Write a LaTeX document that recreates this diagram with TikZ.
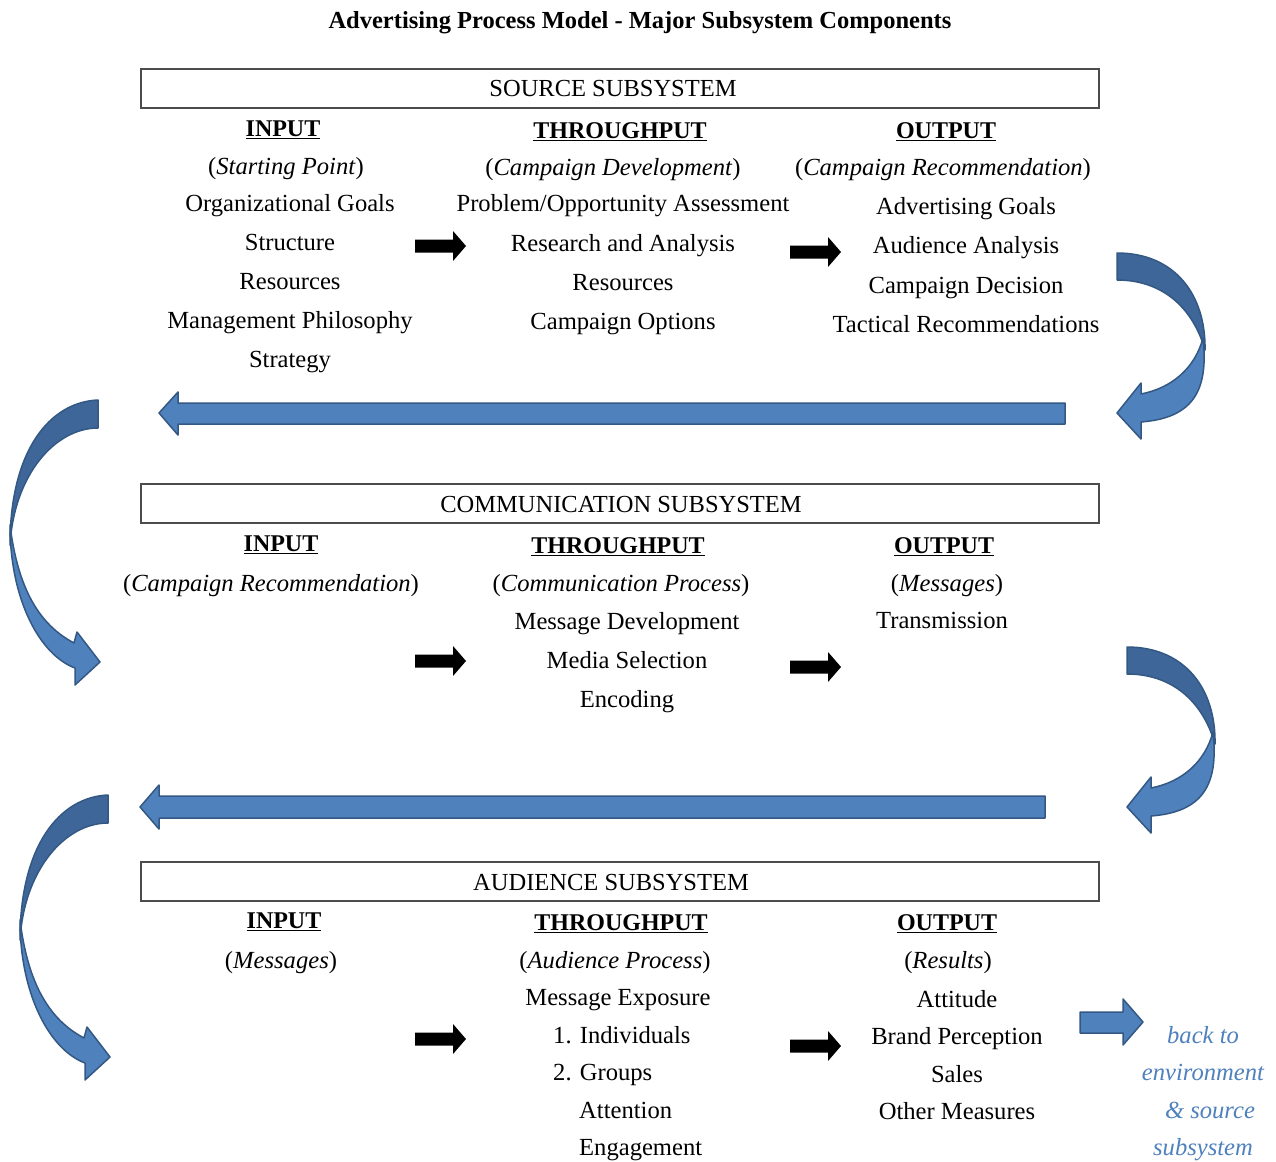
\documentclass[tikz,border=0pt]{standalone}
\usepackage{fontspec}
\setmainfont{Liberation Serif}
\definecolor{abl}{RGB}{79,129,189}
\definecolor{abd}{RGB}{62,102,152}
\definecolor{abo}{RGB}{52,88,132}
\definecolor{btxt}{RGB}{79,129,189}
\begin{document}
\begin{tikzpicture}[x=1pt,y=-1pt,
 t/.style={font=\fontsize{24.6}{29}\selectfont, inner sep=0pt, text height=17pt, text depth=5.5pt},
 hd/.style={font=\fontsize{24}{29}\selectfont\bfseries, inner sep=0pt, text height=17pt, text depth=5.5pt},
 subbox/.style={draw=black!70, line width=1.5pt, minimum width=958pt, minimum height=39pt, inner sep=0pt},
 sublbl/.style={font=\fontsize{24.5}{29}\selectfont, inner sep=0pt, text height=16pt, text depth=4pt},
 blk/.style={fill=black},
 bluear/.style={fill=abl, draw=abo, line width=1.5pt, line join=round},
 bluedark/.style={fill=abd, draw=abo, line width=1.5pt, line join=round},
 btx/.style={font=\fontsize{24.6}{29}\selectfont\itshape, text=btxt, inner sep=0pt, text height=17pt, text depth=5.5pt}
]
\useasboundingbox[fill=white] (0,0) rectangle (1276,1161);

% title
\node[font=\fontsize{24.5}{29}\selectfont\bfseries, inner sep=0pt] (title) at (640,23) {Advertising Process Model - Major Subsystem Components};

% ---------- SOURCE ----------
\node[subbox] (srcbox) at (620,88.5) {};
\node[sublbl] (srclbl) at (613,91) {SOURCE SUBSYSTEM};

\node[hd] (sin) at (283,131) {\underline{INPUT}};
\node[t] (sin1) at (286,169) {(\textit{Starting Point})};
\node[t] (sin2) at (290,206) {Organizational Goals};
\node[t] (sin3) at (290,245) {Structure};
\node[t] (sin4) at (290,284) {Resources};
\node[t] (sin5) at (290,323) {Management Philosophy};
\node[t] (sin6) at (290,362) {Strategy};

\node[hd] (sth) at (620,133) {\underline{THROUGHPUT}};
\node[t] (sth1) at (613,170) {(\textit{Campaign Development})};
\node[t] (sth2) at (623,206) {Problem/Opportunity Assessment};
\node[t] (sth3) at (623,246) {Research and Analysis};
\node[t] (sth4) at (623,285) {Resources};
\node[t] (sth5) at (623,324) {Campaign Options};

\node[hd] (sou) at (946,133) {\underline{OUTPUT}};
\node[t] (sou1) at (943,170) {(\textit{Campaign Recommendation})};
\node[t] (sou2) at (966,209) {Advertising Goals};
\node[t] (sou3) at (966,248) {Audience Analysis};
\node[t] (sou4) at (966,288) {Campaign Decision};
\node[t] (sou5) at (966,327) {Tactical Recommendations};

\fill[blk,shift={(415,246)}] (0,-6.5) -- (38,-6.5) -- (38,-15) -- (51,0) -- (38,15) -- (38,6.5) -- (0,6.5) -- cycle;
\fill[blk,shift={(790,252)}] (0,-6.5) -- (38,-6.5) -- (38,-15) -- (51,0) -- (38,15) -- (38,6.5) -- (0,6.5) -- cycle;

% ---------- COMMUNICATION ----------
\node[subbox] (combox) at (620,503.5) {};
\node[sublbl] (comlbl) at (621,506) {COMMUNICATION SUBSYSTEM};

\node[hd] (cin) at (281,546) {\underline{INPUT}};
\node[t] (cin1) at (271,586) {(\textit{Campaign Recommendation})};

\node[hd] (cth) at (618,548) {\underline{THROUGHPUT}};
\node[t] (cth1) at (621,586) {(\textit{Communication Process})};
\node[t] (cth2) at (627,624) {Message Development};
\node[t] (cth3) at (627,663) {Media Selection};
\node[t] (cth4) at (627,702) {Encoding};

\node[hd] (cou) at (944,548) {\underline{OUTPUT}};
\node[t] (cou1) at (947,586) {(\textit{Messages})};
\node[t] (cou2) at (942,623) {Transmission};

\fill[blk,shift={(415,661)}] (0,-6.5) -- (38,-6.5) -- (38,-15) -- (51,0) -- (38,15) -- (38,6.5) -- (0,6.5) -- cycle;
\fill[blk,shift={(790,667)}] (0,-6.5) -- (38,-6.5) -- (38,-15) -- (51,0) -- (38,15) -- (38,6.5) -- (0,6.5) -- cycle;

% ---------- AUDIENCE ----------
\node[subbox] (audbox) at (620,881.5) {};
\node[sublbl] (audlbl) at (611,884) {AUDIENCE SUBSYSTEM};

\node[hd] (ain) at (284,923) {\underline{INPUT}};
\node[t] (ain1) at (281,963) {(\textit{Messages})};

\node[hd] (ath) at (621,925) {\underline{THROUGHPUT}};
\node[t] (ath1) at (615,963) {(\textit{Audience Process})};
\node[t] (ath2) at (618,1000) {Message Exposure};
\node[t,anchor=west] (ath3) at (553,1038) {1. Individuals};
\node[t,anchor=west] (ath4) at (553,1075) {2. Groups};
\node[t,anchor=west] (ath5) at (579,1113) {Attention};
\node[t,anchor=west] (ath6) at (579,1150) {Engagement};

\node[hd] (aou) at (947,925) {\underline{OUTPUT}};
\node[t] (aou1) at (948,963) {(\textit{Results})};
\node[t] (aou2) at (957,1002) {Attitude};
\node[t] (aou3) at (957,1039) {Brand Perception};
\node[t] (aou4) at (957,1077) {Sales};
\node[t] (aou5) at (957,1114) {Other Measures};

\fill[blk,shift={(415,1039)}] (0,-6.5) -- (38,-6.5) -- (38,-15) -- (51,0) -- (38,15) -- (38,6.5) -- (0,6.5) -- cycle;
\fill[blk,shift={(790,1046)}] (0,-6.5) -- (38,-6.5) -- (38,-15) -- (51,0) -- (38,15) -- (38,6.5) -- (0,6.5) -- cycle;

% back to text
\node[btx] (bk1) at (1203,1038) {back to};
\node[btx] (bk2) at (1203,1075) {environment};
\node[btx] (bk3) at (1210,1113) {\& source};
\node[btx] (bk4) at (1203,1150) {subsystem};
\draw[bluear] (1080,1012) -- (1123,1012) -- (1123,999) -- (1143,1022) -- (1123,1045) -- (1123,1033) -- (1080,1033) -- cycle;

% ---------- long blue arrows ----------
\draw[bluear] (1065,403) -- (178,403) -- (178,392) -- (159,413) -- (178,435) -- (178,424) -- (1065,424) -- cycle;
\draw[bluear] (1045,796) -- (159,796) -- (159,785) -- (140,807) -- (159,829) -- (159,818) -- (1045,818) -- cycle;

% ---------- curved arrows (right side: A, and C as a shifted copy) ----------
\foreach \dx/\dy in {0/0, 10/394}{
\begin{scope}[shift={(\dx,\dy)}]
\draw[bluedark] (1117,253) .. controls (1175,253) and (1206,295) .. (1205,350) .. controls (1192,305) and (1160,280) .. (1117,280) -- cycle;
\draw[bluear] (1203,338) .. controls (1209,392) and (1192,418) .. (1141,422) -- (1141,439) -- (1117,413) -- (1141,383) -- (1141,394) .. controls (1172,388) and (1195,368) .. (1203,338) -- cycle;
\end{scope}}

% ---------- curved arrows (left side: B, and D as a shifted copy) ----------
\foreach \dx/\dy in {0/0, 10/395}{
\begin{scope}[shift={(\dx,\dy)}]
\draw[bluedark] (98,400) .. controls (50,402) and (10,450) .. (10,545) .. controls (14,475) and (55,428) .. (98,428) -- cycle;
\draw[bluear] (10,525) .. controls (10,600) and (40,655) .. (75,668) -- (75,685) -- (100,662) -- (77,632) -- (74,643) .. controls (40,625) and (18,590) .. (10,525) -- cycle;
\end{scope}}
\end{tikzpicture}
\end{document}
